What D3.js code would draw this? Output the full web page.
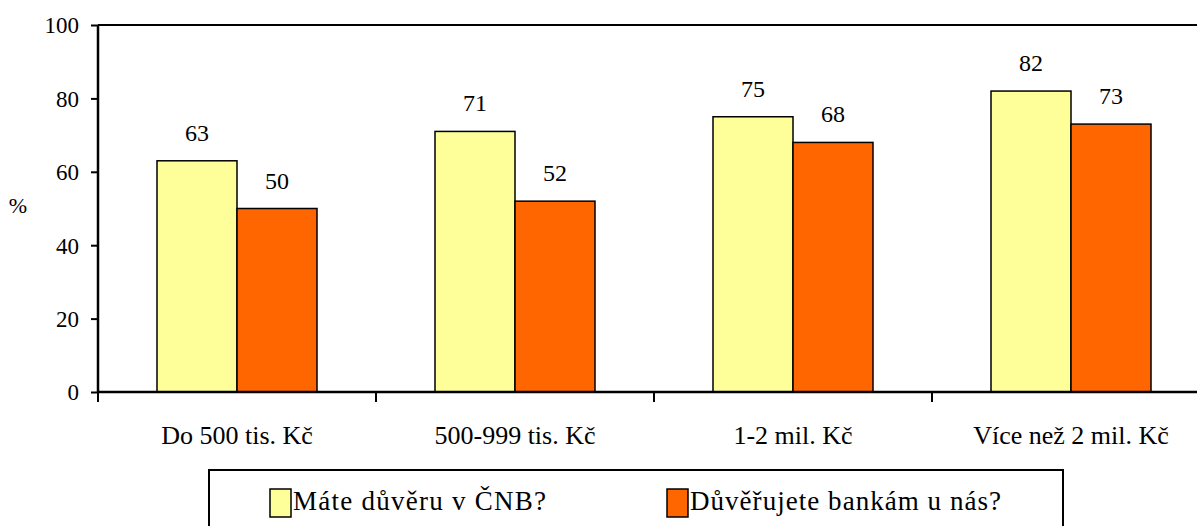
<!DOCTYPE html>
<html><head><meta charset="utf-8">
<script src="https://cdn.jsdelivr.net/npm/d3@7"></script>
<style>text{font-family:"Liberation Serif";}</style>
</head><body style="margin:0"><svg id="c" width="1197" height="526" font-family="Liberation Serif"></svg>
<script>
const categories = ["Do 500 tis. Kč", "500-999 tis. Kč", "1-2 mil. Kč", "Více než 2 mil. Kč"];
const seriesNames = ["Máte důvěru v ČNB?", "Důvěřujete bankám u nás?"];
const trustCNB = [63, 71, 75, 82];
const trustBanks = [50, 52, 68, 73];
const yTicks = [0, 20, 40, 60, 80, 100];
const colors = ["#FFFF99", "#FF6600"];

const FONT = '"Liberation Serif"';
const svg = d3.select("#c");
const x0 = 98, x1 = 1210, yTop = 25, yBot = 392;
const x = d3.scaleBand().domain(categories).range([x0, x1]);
const y = d3.scaleLinear().domain([0, 100]).range([yBot, yTop]);
const barW = 80;
const series = [trustCNB, trustBanks];
function serif(sel, size) {
  sel.attr("font-family", "Liberation Serif").style("font-family", FONT).style("font-size", size + "px").attr("font-size", size);
}

svg.append("line").attr("x1", x0).attr("x2", 1197).attr("y1", yTop).attr("y2", yTop)
  .attr("stroke", "#000").attr("stroke-width", 2);

series.forEach((vals, si) => {
  svg.selectAll(null).data(categories).join("rect")
    .attr("x", d => x(d) + x.bandwidth() / 2 - barW + si * barW)
    .attr("y", (d, i) => y(vals[i]))
    .attr("width", barW)
    .attr("height", (d, i) => yBot - y(vals[i]))
    .attr("fill", colors[si]).attr("stroke", "#000").attr("stroke-width", 1.5);
  svg.selectAll(null).data(categories).join("text")
    .attr("x", d => x(d) + x.bandwidth() / 2 - barW / 2 + si * barW)
    .attr("y", (d, i) => y(vals[i]) - 20)
    .attr("text-anchor", "middle")
    .call(serif, 24)
    .text((d, i) => vals[i]);
});

const ya = svg.append("g").attr("transform", `translate(${x0},0)`)
  .call(d3.axisLeft(y).tickValues(yTicks).tickSize(7).tickPadding(12));
ya.attr("font-family", "Liberation Serif").attr("font-size", null);
ya.select(".domain").attr("stroke-width", 2.5).attr("d", `M0,${yTop}V${yBot}`);
ya.selectAll(".tick line").attr("stroke-width", 2);
ya.selectAll("text").call(serif, 23).attr("fill", "#000").attr("dy", "0.34em");

const xa = svg.append("g").attr("transform", `translate(0,${yBot})`)
  .call(d3.axisBottom(x).tickSize(0).tickPadding(0));
xa.attr("font-family", "Liberation Serif").attr("font-size", null);
xa.select(".domain").attr("stroke-width", 2.5).attr("d", `M${x0},0H1197`);
xa.selectAll("text").call(serif, 26).attr("fill", "#000").attr("dy", null).attr("y", 52);
xa.selectAll(".sep").data(d3.range(categories.length)).join("line")
  .attr("x1", i => x0 + i * x.step()).attr("x2", i => x0 + i * x.step())
  .attr("y1", 0).attr("y2", 10).attr("stroke", "#000").attr("stroke-width", 2);

svg.append("text").attr("x", 18).attr("y", 213).attr("text-anchor", "middle")
  .call(serif, 22).text("%");

const lg = svg.append("g");
lg.append("rect").attr("x", 209).attr("y", 470).attr("width", 854).attr("height", 70)
  .attr("fill", "#fff").attr("stroke", "#000").attr("stroke-width", 2);
const lx = [270, 667];
const lw = [253, 311];
seriesNames.forEach((n, i) => {
  lg.append("rect").attr("x", lx[i]).attr("y", 489).attr("width", 21).attr("height", 28)
    .attr("fill", colors[i]).attr("stroke", "#000").attr("stroke-width", 1.5);
  lg.append("text").attr("x", lx[i] + 23).attr("y", 510)
    .attr("textLength", lw[i]).attr("lengthAdjust", "spacing")
    .call(serif, 27).text(n);
});
</script></body></html>
